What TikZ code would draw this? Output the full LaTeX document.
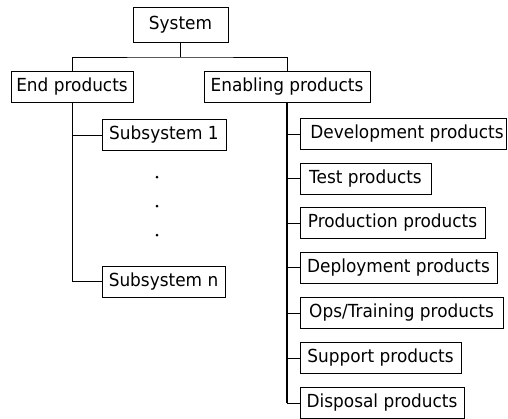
\documentclass[tikz,border=0pt]{standalone}
\usepackage{fontspec}
\setmainfont[FakeStretch=0.94]{DejaVu Sans}

\tikzset{
  box/.style={draw, minimum height=31pt, inner sep=0pt,
    font=\fontsize{18}{21}\selectfont},
  dot/.style={circle, fill, inner sep=0pt, minimum size=3pt}
}

\begin{document}
\begin{tikzpicture}[x=1pt,y=-1pt,line width=1pt]
\useasboundingbox (0,0) rectangle (508,418);

\node[box, minimum width=95pt, minimum height=35pt] (1) at (180.5,25) {System};

\node[box, minimum width=122pt] (21) at (72,87) {End products};
\node[box, minimum width=166pt] (22) at (287,87) {Enabling products};

\node[box, minimum width=124pt] (31) at (164,135) {Subsystem 1};
\node[dot] (d1) at (157,177) {};
\node[dot] (d2) at (157,206) {};
\node[dot] (d3) at (157,235) {};
\node[box, minimum width=123pt] (32) at (163.5,281.5) {Subsystem n};

\node[box, minimum width=206pt] (41) at (403,134) {\hspace{8pt}Development products};
\node[box, minimum width=131pt] (42) at (365.5,178.5) {Test products};
\node[box, minimum width=185pt] (43) at (392.5,223) {Production products};
\node[box, minimum width=197pt] (44) at (398.5,267.5) {Deployment products};
\node[box, minimum width=203pt] (45) at (401.5,313) {Ops/Training products};
\node[box, minimum width=161pt] (46) at (380.5,358) {Support products};
\node[box, minimum width=164pt] (47) at (382,403) {Disposal products};

% tree lines
\coordinate (j) at (180.5,57);
\draw (1.south) -- (j);
\draw (21.north) |- (j) -| (22.north);

\draw (21.south) |- (32.west);
\draw (21.south |- 31.west) -- (31.west);

\draw[line width=1.6pt] (22.south) -- (22.south |- 47.west);
\foreach \n in {41,...,47}
  \draw (22.south |- \n.west) -- (\n.west);
\end{tikzpicture}
\end{document}
